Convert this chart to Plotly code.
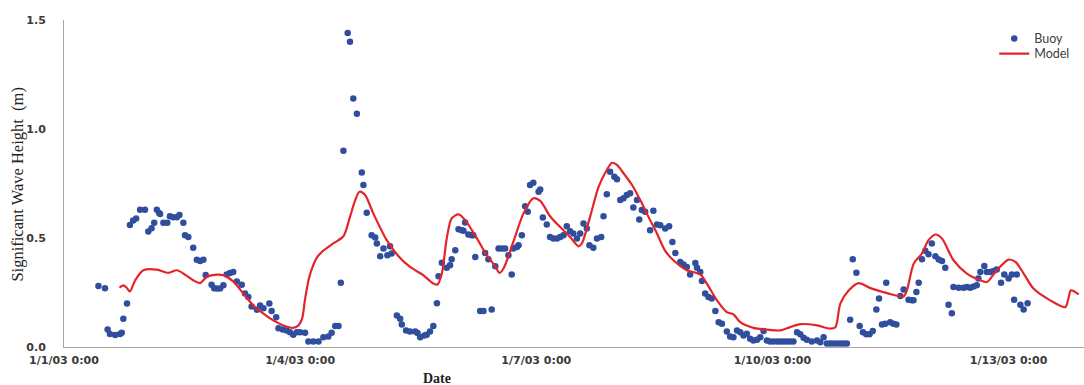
import pandas as pd
import plotly.graph_objects as go

START = pd.Timestamp("2003-01-01 00:00")

# Buoy observations: hours after 1/1/03 0:00 and significant wave height (m)
buoy_hours = [
    10.5, 12.5, 13.3, 14.0, 15.6, 17.1, 17.6, 18.1, 19.2, 20.1, 21.1, 22.0, 23.2, 24.7,
    25.7, 26.7, 27.5, 28.3, 29.0, 29.3, 30.3, 31.5, 32.3, 33.3, 34.4, 35.2, 36.4, 36.9,
    37.9, 39.4, 40.5, 41.5, 42.5, 43.2, 45.0, 45.8, 46.6, 47.6, 48.6, 49.6, 50.6, 51.6,
    52.7, 54.2, 55.2, 56.2, 57.2, 58.8, 59.8, 60.8, 62.6, 63.3, 64.7, 65.4, 66.7, 67.9,
    68.9, 69.9, 71.0, 72.0, 73.5, 74.5, 76.0, 77.6, 79.1, 80.6, 81.6, 82.7, 83.7, 84.4,
    85.2, 86.5, 87.2, 88.2, 89.3, 90.8, 91.3, 92.3, 93.8, 94.9, 95.4, 96.4, 97.4, 98.6,
    99.4, 99.9, 101.5, 102.5, 103.0, 104.3, 105.5, 107.1, 107.8, 108.6, 109.9, 110.6,
    111.6, 112.6, 113.7, 114.2, 115.2, 116.7, 117.7, 118.2, 119.3, 120.3, 121.3, 121.8,
    122.3, 123.3, 124.3, 124.8, 125.4, 126.9, 127.9, 128.4, 129.4, 130.4, 131.5, 132.5,
    133.5, 134.5, 135.5, 136.5, 137.0, 138.1, 138.6, 139.6, 140.6, 141.4, 142.1, 143.1,
    144.7, 145.2, 146.0, 147.2, 148.2, 149.2, 150.3, 151.3, 152.3, 153.3, 154.3, 155.3,
    156.4, 157.4, 158.4, 159.4, 160.2, 161.4, 162.5, 163.8, 164.5, 165.5, 166.5, 167.8,
    168.6, 169.6, 170.6, 171.6, 172.6, 173.6, 174.7, 175.4, 176.2, 177.2, 178.7, 179.7,
    180.8, 181.8, 183.3, 184.5, 185.5, 186.4, 187.9, 188.9, 189.9, 190.9, 192.5, 193.0,
    194.0, 194.5, 195.5, 196.5, 197.5, 198.6, 199.6, 200.6, 202.1, 203.1, 204.1, 205.2,
    206.2, 207.2, 208.2, 209.2, 210.2, 211.3, 212.3, 213.3, 214.3, 215.3, 216.3, 217.4,
    218.4, 219.4, 220.4, 221.4, 222.4, 223.5, 224.5, 225.5, 226.5, 228.0, 229.6, 230.6,
    231.6, 232.6, 233.6, 234.6, 235.6, 236.7, 237.7, 238.7, 239.7, 240.5, 241.6, 242.6,
    243.6, 244.6, 245.6, 246.6, 247.7, 248.5, 249.4, 250.4, 250.7, 251.9, 252.9, 253.8,
    255.0, 256.0, 257.5, 258.5, 259.0, 259.9, 260.6, 261.6, 262.6, 263.6, 264.6, 265.7,
    266.7, 267.7, 268.7, 269.7, 270.7, 271.2, 272.8, 274.3, 275.3, 276.3, 277.3, 278.3,
    278.8, 279.4, 280.6, 281.4, 282.4, 283.4, 284.4, 285.7, 286.7, 288.0, 289.0, 289.7,
    290.5, 291.6, 292.6, 293.8,
]
buoy_hs = [
    0.28, 0.27, 0.08, 0.06, 0.055, 0.06, 0.065, 0.13, 0.20, 0.56, 0.58, 0.59, 0.63, 0.63,
    0.53, 0.545, 0.57, 0.63, 0.615, 0.61, 0.57, 0.57, 0.60, 0.595, 0.595, 0.605, 0.57, 0.513,
    0.505, 0.455, 0.40, 0.395, 0.40, 0.33, 0.286, 0.27, 0.268, 0.268, 0.283, 0.332, 0.34, 0.344,
    0.30, 0.286, 0.245, 0.229, 0.186, 0.171, 0.19, 0.178, 0.20, 0.165, 0.137, 0.086, 0.08, 0.076,
    0.068, 0.056, 0.068, 0.068, 0.065, 0.025, 0.025, 0.025, 0.045, 0.048, 0.065, 0.096, 0.096, 0.295,
    0.90, 1.44, 1.40, 1.14, 1.07, 0.80, 0.743, 0.616, 0.513, 0.502, 0.475, 0.416, 0.452, 0.421,
    0.462, 0.429, 0.145, 0.13, 0.103, 0.076, 0.071, 0.071, 0.064, 0.045, 0.053, 0.056,
    0.071, 0.096, 0.201, 0.324, 0.387, 0.364, 0.375, 0.402, 0.444, 0.54, 0.536, 0.533,
    0.571, 0.516, 0.513, 0.513, 0.413, 0.165, 0.165, 0.431, 0.402, 0.172, 0.37, 0.452,
    0.452, 0.452, 0.421, 0.333, 0.452, 0.459, 0.467, 0.513, 0.646, 0.62, 0.743, 0.753,
    0.712, 0.723, 0.594, 0.562, 0.505, 0.498, 0.498, 0.505, 0.513, 0.554, 0.531, 0.521,
    0.498, 0.521, 0.567, 0.544, 0.467, 0.455, 0.498, 0.505, 0.600, 0.701, 0.804, 0.781,
    0.769, 0.674, 0.682, 0.697, 0.705, 0.640, 0.674, 0.585, 0.628, 0.620, 0.536, 0.625,
    0.562, 0.559, 0.544, 0.554, 0.482, 0.431, 0.39, 0.378, 0.367, 0.333, 0.385, 0.364,
    0.344, 0.303, 0.245, 0.229, 0.222, 0.165, 0.114, 0.107, 0.071, 0.048, 0.045, 0.076,
    0.068, 0.053, 0.061, 0.038, 0.030, 0.033, 0.045, 0.073, 0.03, 0.025, 0.025, 0.025,
    0.025, 0.025, 0.025, 0.025, 0.025, 0.068, 0.058, 0.042, 0.033, 0.025, 0.03, 0.022,
    0.045, 0.016, 0.016, 0.016, 0.016, 0.016, 0.016, 0.016, 0.125, 0.402, 0.341, 0.096,
    0.068, 0.058, 0.058, 0.073, 0.172, 0.222, 0.103, 0.107, 0.295, 0.114, 0.107, 0.103,
    0.234, 0.264, 0.217, 0.214, 0.214, 0.252, 0.295, 0.402, 0.441, 0.425, 0.475, 0.416,
    0.401, 0.395, 0.364, 0.194, 0.155, 0.275, 0.272, 0.272, 0.275, 0.272, 0.278, 0.283,
    0.314, 0.344, 0.372, 0.344, 0.344, 0.349, 0.355, 0.295, 0.332, 0.314, 0.332, 0.217,
    0.333, 0.194, 0.172, 0.201,
]

# Model hindcast: hours after 1/1/03 0:00 and significant wave height (m)
model_hours = [
    16.9, 18.1, 19.1, 20.1, 21.7, 24.2, 28.3, 31.8, 34.4, 36.9, 39.4, 41.5, 43.5, 46.6,
    48.6, 51.6, 54.7, 57.7, 60.8, 63.8, 66.9, 69.9, 71.5, 72.6, 73.5, 74.6, 75.6, 77.1,
    78.6, 82.1, 85.2, 87.2, 88.8, 90.1, 91.8, 94.3, 98.4, 102.0, 105.5, 109.6, 112.6,
    113.9, 115.2, 116.7, 118.2, 120.3, 122.3, 125.9, 128.9, 131.5, 132.8, 134.0, 137.0,
    140.1, 143.1, 145.2, 148.2, 151.3, 154.3, 156.9, 157.9, 160.4, 163.0, 165.5, 167.1,
    168.6, 170.6, 173.2, 175.7, 178.7, 180.8, 183.3, 185.8, 189.9, 194.0, 196.0, 199.1,
    202.1, 204.1, 206.2, 210.2, 214.3, 218.4, 221.4, 224.5, 229.6, 233.6, 235.2, 236.7,
    239.3, 242.3, 245.9, 251.0, 256.0, 257.0, 259.1, 261.6, 263.6, 265.7, 267.7, 271.2,
    275.3, 279.4, 281.4, 284.4, 288.0, 290.1, 292.6, 295.6, 300.7, 305.3, 306.1, 307.0,
    307.8, 309.4,
]
model_hs = [
    0.272, 0.283, 0.272, 0.255, 0.306, 0.352, 0.355, 0.34, 0.352, 0.332, 0.306, 0.293, 0.321, 0.332,
    0.329, 0.301, 0.245, 0.191, 0.153, 0.122, 0.099, 0.088, 0.099, 0.13, 0.22, 0.31, 0.36, 0.41,
    0.436, 0.475, 0.508, 0.597, 0.674, 0.712, 0.697, 0.613, 0.49, 0.416, 0.367, 0.329, 0.291,
    0.287, 0.337, 0.498, 0.59, 0.608, 0.582, 0.498, 0.421, 0.37, 0.34, 0.36, 0.482,
    0.613, 0.682, 0.670, 0.60, 0.55, 0.505, 0.462, 0.475, 0.597, 0.735, 0.812, 0.845,
    0.835, 0.797, 0.743, 0.674, 0.582, 0.521, 0.441, 0.398, 0.352, 0.333, 0.291, 0.214,
    0.16, 0.15, 0.114, 0.088, 0.08, 0.076, 0.091, 0.105, 0.099, 0.084, 0.091, 0.199,
    0.26, 0.293, 0.27, 0.247, 0.232, 0.26, 0.383, 0.429, 0.49, 0.516, 0.498, 0.398,
    0.337, 0.306, 0.298, 0.352, 0.401, 0.39, 0.337, 0.268, 0.214, 0.183, 0.214, 0.26,
    0.257, 0.241,
]

tick_days = [0, 3, 6, 9, 12]
y_ticks = [0.0, 0.5, 1.0, 1.5]

buoy_t = START + pd.to_timedelta(buoy_hours, unit="h")
model_t = START + pd.to_timedelta(model_hours, unit="h")
tick_vals = [START + pd.Timedelta(days=d) for d in tick_days]

fig = go.Figure()
fig.add_trace(go.Scatter(
    x=buoy_t, y=buoy_hs, mode="markers", name="Buoy", legend="legend",
    marker=dict(color="#2f4e9e", size=6.5, line=dict(width=0)),
))
fig.add_trace(go.Scatter(
    x=model_t, y=model_hs, mode="lines", name="Model", legend="legend2",
    line=dict(color="#e3252a", width=2.2, shape="spline", smoothing=0.8),
))

axis_font = dict(family="DejaVu Sans", size=11, color="#3a3a3a", weight="bold")
legend_font = dict(family="Lato", size=12.5, color="#404040")

fig.update_layout(
    width=1084, height=385,
    margin=dict(l=64, r=0, t=20, b=38),
    paper_bgcolor="white", plot_bgcolor="white",
    showlegend=True,
    legend=dict(
        x=0.912, xanchor="left", y=0.988, yanchor="top",
        font=legend_font, bgcolor="rgba(0,0,0,0)", borderwidth=0,
    ),
    legend2=dict(
        x=0.912, xanchor="left", y=0.942, yanchor="top",
        font=legend_font, bgcolor="rgba(0,0,0,0)", borderwidth=0,
    ),
    xaxis=dict(
        range=[START, START + pd.Timedelta(hours=311)],
        tickvals=tick_vals, tickformat="%-m/%-d/%y %-H:%M",
        tickfont=axis_font, ticks="outside", ticklen=3, tickcolor="rgba(0,0,0,0)",
        showline=True, linecolor="#a6a6a6", linewidth=1,
        showgrid=False, zeroline=False,
    ),
    yaxis=dict(
        range=[0, 1.5], tickvals=y_ticks, tickformat=".1f",
        tickfont=axis_font, ticks="outside", ticklen=15, tickcolor="rgba(0,0,0,0)",
        showline=True, linecolor="#a6a6a6", linewidth=1,
        showgrid=False, zeroline=False,
    ),
    annotations=[
        dict(text="Date", xref="paper", yref="paper", x=0.3657, y=-0.095,
             xanchor="center", yanchor="middle", showarrow=False,
             font=dict(family="Liberation Serif", size=14, color="#222222", weight="bold")),
        dict(text="Significant Wave Height  (m)", xref="paper", yref="paper",
             x=-0.046, y=0.497, xanchor="center", yanchor="middle", textangle=-90,
             showarrow=False,
             font=dict(family="Liberation Serif", size=16.5, color="#222222")),
    ],
)

fig.write_html("out.html")
